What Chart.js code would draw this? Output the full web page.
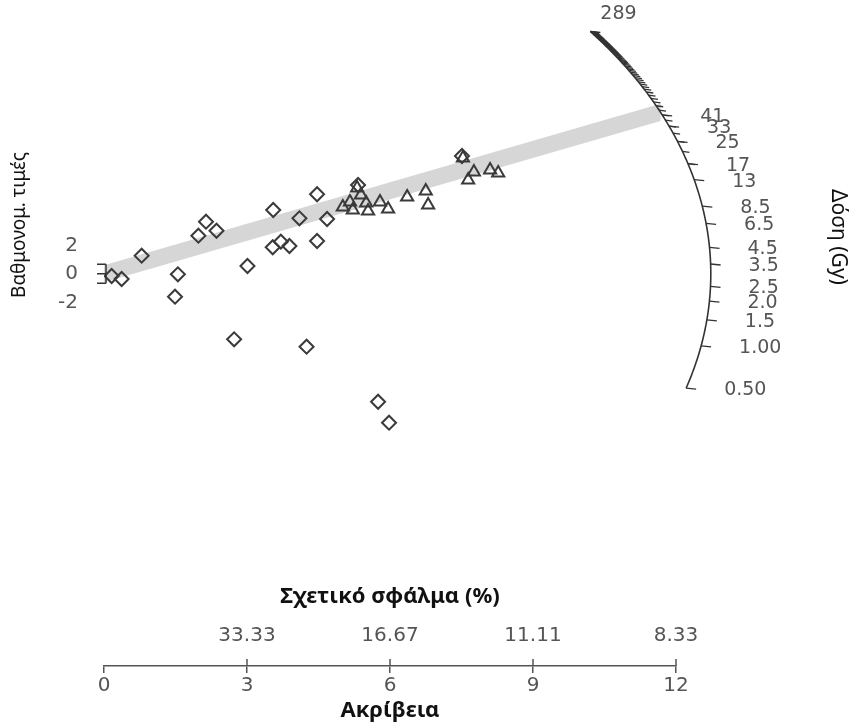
<!DOCTYPE html>
<html>
<head>
<meta charset="utf-8">
<script src="https://cdn.jsdelivr.net/npm/chart.js@4"></script>
<style>
  html, body { margin: 0; padding: 0; background: #fff; }
  #wrap { width: 863px; height: 726px; }
</style>
</head>
<body>
<div id="wrap"><canvas id="radial"></canvas></div>
<script>
// radial plot: precision (x) against standardised estimate (y)
const diamondPrecision = [0.16, 0.37, 0.79, 1.55, 1.49, 2.14, 1.98, 2.36, 3.01, 3.55, 3.54, 3.71, 3.89, 4.10, 4.47, 4.47, 4.68, 2.73, 4.25, 5.75, 5.98, 5.33, 7.51];
const diamondStdEst   = [-0.46, -1.09, 3.81, -0.11, -4.82, 10.97, 8.02, 9.07, 1.64, 13.43, 5.58, 6.76, 5.85, 11.68, 16.74, 6.91, 11.54, -13.79, -15.35, -26.93, -31.35, 18.7, 24.8];
const trianglePrecision = [5.01, 5.16, 5.31, 5.39, 5.22, 5.50, 5.54, 5.79, 5.96, 6.36, 6.75, 6.80, 7.53, 7.64, 7.76, 8.10, 8.27];
const triangleStdEst   = [14.06, 15.12, 18.06, 16.59, 13.43, 14.91, 13.22, 15.12, 13.64, 16.17, 17.43, 14.48, 24.38, 19.75, 21.43, 21.85, 21.22];

const precisionTicks = [0, 3, 6, 9, 12];
const stdEstTicks = [-2, 0, 2];
const arcDoses  = [0.5, 1, 1.5, 2, 2.5, 3.5, 4.5, 6.5, 8.5, 13, 17, 25, 33, 41, 289];
const arcLabels = ['0.50', '1.00', '1.5', '2.0', '2.5', '3.5', '4.5', '6.5', '8.5', '13', '17', '25', '33', '41', '289'];
const arcMinorFrom = 17, arcMinorTo = 289, arcMinorStep = 4;
const centralDose = 43;     // grey band
const zeroDose = 3.02;      // dose on the horizontal line through the origin
const doseFactor = 1.096;
const arcRx = 12.73, arcRy = 85.3;

const numFont = 'DejaVu Sans';
const txtFont = '"Noto Sans", "DejaVu Sans", sans-serif';

function toPoints(xs, ys) {
    return xs.map((x, i) => ({ x: x, y: ys[i] }));
}
function doseSlope(d) {
    return doseFactor * Math.log(d / zeroDose);
}
function arcPoint(s) {
    let x = 1 / Math.sqrt(1 / (arcRx * arcRx) + s * s / (arcRy * arcRy));
    return { x: x, y: s * x };
}

const radialPlugin = {
    id: 'radialExtras',
    beforeDatasetsDraw(chart) {
        let ctx = chart.ctx, sx = chart.scales.x, sy = chart.scales.y;
        let end = arcPoint(doseSlope(centralDose));
        ctx.save();
        ctx.fillStyle = '#d6d6d6';
        ctx.beginPath();
        ctx.moveTo(sx.getPixelForValue(0), sy.getPixelForValue(1.8));
        ctx.lineTo(sx.getPixelForValue(end.x), sy.getPixelForValue(end.y + 1.8));
        ctx.lineTo(sx.getPixelForValue(end.x), sy.getPixelForValue(end.y - 1.8));
        ctx.lineTo(sx.getPixelForValue(0), sy.getPixelForValue(-1.8));
        ctx.closePath();
        ctx.fill();
        ctx.restore();
    },
    afterDraw(chart) {
        let ctx = chart.ctx, sx = chart.scales.x, sy = chart.scales.y, area = chart.chartArea;
        let px = p => ({ x: sx.getPixelForValue(p.x), y: sy.getPixelForValue(p.y) });
        ctx.save();

        // arc
        ctx.strokeStyle = '#333';
        ctx.lineWidth = 1.6;
        let s0 = doseSlope(arcDoses[0]), s1 = doseSlope(arcDoses[arcDoses.length - 1]);
        ctx.beginPath();
        for (let i = 0; i <= 200; i++) {
            let p = px(arcPoint(s0 + (s1 - s0) * i / 200));
            if (i == 0) ctx.moveTo(p.x, p.y); else ctx.lineTo(p.x, p.y);
        }
        ctx.stroke();

        // minor ticks
        ctx.lineWidth = 1.3;
        for (let d = arcMinorFrom; d <= arcMinorTo; d += arcMinorStep) {
            let p = px(arcPoint(doseSlope(d)));
            ctx.beginPath();
            ctx.moveTo(p.x, p.y);
            ctx.lineTo(p.x + 7, p.y + 1);
            ctx.stroke();
        }

        // labelled ticks
        ctx.fillStyle = '#555';
        ctx.font = '19px ' + numFont;
        ctx.textBaseline = 'middle';
        ctx.textAlign = 'left';
        for (let i = 0; i < arcDoses.length; i++) {
            let p = px(arcPoint(doseSlope(arcDoses[i])));
            ctx.beginPath();
            ctx.moveTo(p.x, p.y);
            ctx.lineTo(p.x + 10, p.y + 1);
            ctx.stroke();
            if (i == arcDoses.length - 1) {
                ctx.fillText(arcLabels[i], p.x + 10, p.y - 17);
            } else {
                ctx.fillText(arcLabels[i], p.x + 38, p.y + 2);
            }
        }

        // short y bar at the origin
        let x0 = sx.getPixelForValue(0) + 2;
        ctx.lineWidth = 1.5;
        ctx.beginPath();
        ctx.moveTo(x0, sy.getPixelForValue(2));
        ctx.lineTo(x0, sy.getPixelForValue(-2));
        stdEstTicks.forEach(v => {
            ctx.moveTo(x0, sy.getPixelForValue(v));
            ctx.lineTo(x0 - 9, sy.getPixelForValue(v));
        });
        ctx.stroke();

        // upper part of x ticks and relative error labels
        ctx.strokeStyle = '#555';
        ctx.textAlign = 'center';
        ctx.font = '20px ' + numFont;
        precisionTicks.forEach(v => {
            if (v == 0) return;
            let x = sx.getPixelForValue(v);
            ctx.beginPath();
            ctx.moveTo(x, area.bottom);
            ctx.lineTo(x, area.bottom - 7);
            ctx.stroke();
            ctx.fillText((100 / v).toFixed(2), x, area.bottom - 30);
        });

        ctx.fillStyle = '#111';
        ctx.font = 'bold 22px ' + txtFont;
        ctx.fillText('Σχετικό σφάλμα (%)', sx.getPixelForValue(6), area.bottom - 69);

        // side titles
        ctx.font = '19px ' + txtFont;
        ctx.save();
        ctx.translate(20, 225);
        ctx.rotate(-Math.PI / 2);
        ctx.fillText('Βαθμονομ. τιμές', 0, 0);
        ctx.restore();

        ctx.font = '21px ' + txtFont;
        ctx.save();
        ctx.translate(838, 237);
        ctx.rotate(Math.PI / 2);
        ctx.fillText('Δόση (Gy)', 0, 0);
        ctx.restore();

        ctx.restore();
    }
};

const ctx = document.getElementById('radial');
const radialChart = new Chart(ctx, {
    type: 'scatter',
    data: {
        datasets: [
            {
                label: 'diamonds',
                data: toPoints(diamondPrecision, diamondStdEst),
                pointStyle: 'rectRot',
                pointRadius: 7,
                borderColor: '#3a3a3a',
                backgroundColor: 'rgba(0,0,0,0)',
                borderWidth: 2,
                yAxisID: 'y'
            },
            {
                label: 'triangles',
                data: toPoints(trianglePrecision, triangleStdEst),
                pointStyle: 'triangle',
                pointRadius: 7,
                borderColor: '#3a3a3a',
                backgroundColor: 'rgba(0,0,0,0)',
                borderWidth: 2,
                yAxisID: 'y'
            }
        ]
    },
    options: {
        responsive: true,
        maintainAspectRatio: false,
        animation: false,
        layout: { padding: { top: 40, right: 187, left: 0, bottom: 0 } },
        plugins: { legend: { display: false }, tooltip: { enabled: false } },
        scales: {
            x: {
                type: 'linear',
                min: 0,
                max: 12,
                afterBuildTicks: scale => { scale.ticks = precisionTicks.map(v => ({ value: v })); },
                afterFit: scale => { scale.height = 60; },
                ticks: { color: '#555', font: { family: numFont, size: 20 }, padding: 1 },
                grid: { drawOnChartArea: false, color: '#555', lineWidth: 1.5, tickLength: 7 },
                border: { display: true, color: '#555', width: 1.5 },
                title: { display: true, text: 'Ακρίβεια', color: '#111', font: { family: txtFont, size: 22, weight: 'bold' }, padding: { top: 0, bottom: 2 } }
            },
            y: {
                display: false,
                min: -82.57,
                max: 49.22
            },
            yLab: {
                position: 'left',
                min: -27.41,
                max: 16.36,
                afterBuildTicks: scale => { scale.ticks = stdEstTicks.map(v => ({ value: v })); },
                afterFit: scale => { scale.width = 104; },
                ticks: { color: '#555', font: { family: numFont, size: 20 }, padding: 18 },
                grid: { display: false },
                border: { display: false }
            }
        }
    },
    plugins: [radialPlugin]
});
</script>
</body>
</html>
